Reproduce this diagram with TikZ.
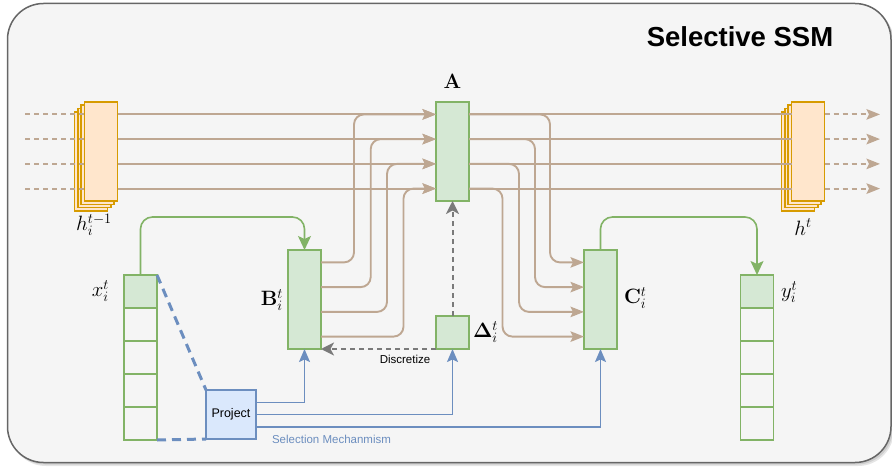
\documentclass[tikz,border=0pt]{standalone}
\usepackage[no-math]{fontspec}
\newfontfamily\arialfont{Liberation Sans}
\usetikzlibrary{arrows.meta,calc}

\definecolor{bgfill}{HTML}{F5F5F5}
\definecolor{framecol}{HTML}{666666}
\definecolor{gfill}{HTML}{D5E8D4}
\definecolor{gline}{HTML}{82B366}
\definecolor{ofill}{HTML}{FFE6CC}
\definecolor{oline}{HTML}{D79B00}
\definecolor{bfill}{HTML}{DAE8FC}
\definecolor{bline}{HTML}{6C8EBF}
\definecolor{statecol}{RGB}{190,167,146}
\definecolor{dgray}{HTML}{7A7A7A}

\tikzset{
  tanhead/.tip={Stealth[length=13.5pt,width=10.5pt,inset=2.5pt]},
  grnhead/.tip={Stealth[length=14pt,width=13pt,inset=3pt]},
  gryhead/.tip={Stealth[length=13pt,width=13pt,inset=3.5pt]},
  bluhead/.tip={Stealth[length=13pt,width=11pt,inset=2.5pt]},
}

\begin{document}
\begin{tikzpicture}[x=1pt,y=-1pt,
  every node/.style={inner sep=0pt, outer sep=0pt},
  blk/.style={draw=gline, fill=gfill, line width=1.7pt, minimum width=33pt, minimum height=99pt},
  cell/.style={draw=gline, line width=1.7pt, minimum width=33pt, minimum height=33pt},
  hbox/.style={draw=oline, fill=ofill, line width=1.6pt, minimum width=33pt, minimum height=99pt},
  prj/.style={draw=bline, fill=bfill, line width=1.6pt, minimum width=50pt, minimum height=49pt,
    font=\arialfont\fontsize{12.5}{14}\selectfont},
  lbl/.style={font=\fontsize{19.5}{22}\selectfont},
  sline/.style={draw=statecol, line width=1.9pt},
  gconn/.style={draw=gline, line width=1.6pt, rounded corners=12pt},
  bconn/.style={draw=bline, line width=1.6pt},
  gdash/.style={draw=dgray, line width=2pt, dash pattern=on 5pt off 4pt},
  bdash/.style={draw=bline, line width=3pt, dash pattern=on 9pt off 6pt},
]
\useasboundingbox (0,0) rectangle (892,468);

% outer container with soft shadow
\fill[black, opacity=0.10, rounded corners=36pt] (10,6.5) rectangle (894,466);
\fill[black, opacity=0.10, rounded corners=36pt] (9,5) rectangle (893,464.5);
\draw[framecol, fill=bgfill, line width=1.5pt, rounded corners=36pt] (7.5,3.5) rectangle (891,462.5);

\node[font=\arialfont\bfseries\fontsize{27.5}{30}\selectfont, anchor=base] (title) at (740,47) {Selective SSM};

% hidden-state stacks
\foreach \k in {3,2,1} {
  \node[hbox] (hL\k) at ({101-3.3*\k},{151.5+3.3*\k}) {};
  \node[hbox] (hR\k) at ({808-3.3*\k},{151.5+3.3*\k}) {};
}
\node[hbox] (hL) at (101,151.5) {};
\node[hbox] (hR) at (808,151.5) {};

% parameter blocks
\node[blk] (A) at (452.5,151.5) {};
\node[blk] (B) at (304.5,299.5) {};
\node[blk] (C) at (600.5,299.5) {};
\node[blk, minimum height=33pt] (D) at (452.5,332.5) {};
\node[prj] (P) at (231,414.5) {Project};

% input and output vectors
\foreach \k in {1,...,5} {
  \node[cell] (x\k) at (140.5,{258.5+33*\k}) {};
  \node[cell] (y\k) at (757,{258.5+33*\k}) {};
}
\node[cell, fill=gfill] at (x1) {};
\node[cell, fill=gfill] at (y1) {};

% row levels
\foreach \i/\ra/\rb/\vb/\vc in {1/114.4/262.4/354/550, 2/139.1/287.1/370.7/535,
                                3/163.9/311.9/387/519, 4/188.6/336.6/403.5/502.5} {
  \coordinate (ra\i) at (0,\ra);
  \coordinate (rb\i) at (0,\rb);
  \coordinate (vb\i) at (\vb,0);
  \coordinate (vc\i) at (\vc,0);
  \coordinate (lin\i) at (25,\ra);
  \coordinate (rout\i) at (880,\ra);
}

% state flow through A, B and C
\foreach \i in {1,...,4} {
  \draw[sline, dash pattern=on 5pt off 4pt] (lin\i) -- (hL.west |- ra\i);
  \draw[sline, -tanhead] (hL.east |- ra\i) -- (A.west |- ra\i);
  \draw[sline, rounded corners=10pt, -tanhead] (B.east |- rb\i) -| (vb\i |- ra\i) -- (A.west |- ra\i);
  \draw[sline] (A.east |- ra\i) -- (hR.west |- ra\i);
  \draw[sline, rounded corners=10pt, -tanhead] (A.east |- ra\i) -| (vc\i |- rb\i) -- (C.west |- rb\i);
  \draw[sline, dash pattern=on 5pt off 4pt, -tanhead] (hR.east |- ra\i) -- (rout\i);
}

% input to B, C to output
\coordinate (gy) at (0,217);
\draw[gconn, -grnhead] (x1.north) |- (B.north |- gy) -- (B.north);
\draw[gconn, -grnhead] (C.north) |- (y1.north |- gy) -- (y1.north);

% discretization
\draw[gdash, -gryhead] (D.north) -- (A.south);
\draw[gdash, -gryhead] (D.south west) -- (B.south east);
\node[font=\arialfont\fontsize{11.5}{13}\selectfont] (disc) at (405,359) {Discretize};

% selection mechanism
\coordinate (p1) at (0,402.3);
\coordinate (p2) at (0,414.5);
\coordinate (p3) at (0,426.7);
\draw[bconn, -bluhead] (P.east |- p1) -| (B.south);
\draw[bconn, -bluhead] (P.east |- p2) -| (D.south);
\draw[bconn, -bluhead] (P.east |- p3) -| (C.south);
\draw[bdash] (x1.north east) -- (P.north west);
\draw[bdash] (x5.south east) -- (P.south west);
\node[font=\arialfont\fontsize{11.5}{13}\selectfont, text=bline] (sel) at (331.5,439) {Selection Mechanmism};

% labels
\node[lbl] (Alab) at (452.5,81) {$\mathbf{A}$};
\node[lbl, anchor=east] (Blab) at (283,300) {$\mathbf{B}_i^t$};
\node[lbl, anchor=west] (Clab) at (624,298) {$\mathbf{C}_i^t$};
\node[lbl, anchor=west] (Dlab) at (473,332) {$\mathbf{\Delta}_i^t$};
\node[lbl, anchor=east] (xlab) at (109,291) {$x_i^t$};
\node[lbl, anchor=west] (ylab) at (781,292) {$y_i^t$};
\node[lbl] (hLlab) at (94,225) {$h_i^{t-1}$};
\node[lbl] (hRlab) at (803,227) {$h^t$};
\end{tikzpicture}
\end{document}
